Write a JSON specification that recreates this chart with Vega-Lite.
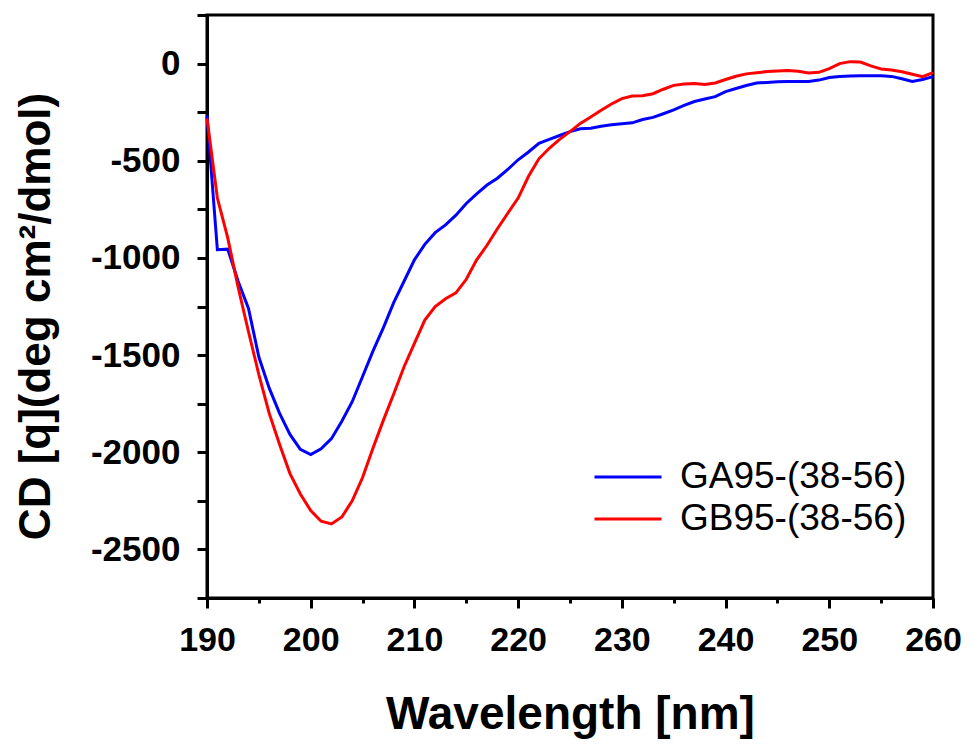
{
  "$schema": "https://vega.github.io/schema/vega-lite/v6.json",
  "width": 726,
  "height": 583,
  "autosize": {"type": "none"},
  "padding": {"left": 207, "top": 15, "right": 39, "bottom": 146},
  "background": "white",
  "config": {
    "font": "Liberation Sans",
    "view": {"stroke": "black", "strokeWidth": 3}
  },
  "data": {
    "values": [
      {"wl":190,"cd":-267,"s":"GA95-(38-56)"},{"wl":191,"cd":-958,"s":"GA95-(38-56)"},{"wl":192,"cd":-955,"s":"GA95-(38-56)"},{"wl":193,"cd":-1120,"s":"GA95-(38-56)"},{"wl":194,"cd":-1260,"s":"GA95-(38-56)"},{"wl":195,"cd":-1510,"s":"GA95-(38-56)"},{"wl":196,"cd":-1670,"s":"GA95-(38-56)"},{"wl":197,"cd":-1800,"s":"GA95-(38-56)"},{"wl":198,"cd":-1908,"s":"GA95-(38-56)"},{"wl":199,"cd":-1985,"s":"GA95-(38-56)"},
      {"wl":200,"cd":-2012,"s":"GA95-(38-56)"},{"wl":201,"cd":-1982,"s":"GA95-(38-56)"},{"wl":202,"cd":-1930,"s":"GA95-(38-56)"},{"wl":203,"cd":-1840,"s":"GA95-(38-56)"},{"wl":204,"cd":-1740,"s":"GA95-(38-56)"},{"wl":205,"cd":-1610,"s":"GA95-(38-56)"},{"wl":206,"cd":-1480,"s":"GA95-(38-56)"},{"wl":207,"cd":-1360,"s":"GA95-(38-56)"},{"wl":208,"cd":-1230,"s":"GA95-(38-56)"},{"wl":209,"cd":-1120,"s":"GA95-(38-56)"},
      {"wl":210,"cd":-1010,"s":"GA95-(38-56)"},{"wl":211,"cd":-930,"s":"GA95-(38-56)"},{"wl":212,"cd":-870,"s":"GA95-(38-56)"},{"wl":213,"cd":-830,"s":"GA95-(38-56)"},{"wl":214,"cd":-780,"s":"GA95-(38-56)"},{"wl":215,"cd":-720,"s":"GA95-(38-56)"},{"wl":216,"cd":-670,"s":"GA95-(38-56)"},{"wl":217,"cd":-625,"s":"GA95-(38-56)"},{"wl":218,"cd":-590,"s":"GA95-(38-56)"},{"wl":219,"cd":-545,"s":"GA95-(38-56)"},
      {"wl":220,"cd":-495,"s":"GA95-(38-56)"},{"wl":221,"cd":-455,"s":"GA95-(38-56)"},{"wl":222,"cd":-410,"s":"GA95-(38-56)"},{"wl":223,"cd":-390,"s":"GA95-(38-56)"},{"wl":224,"cd":-370,"s":"GA95-(38-56)"},{"wl":225,"cd":-350,"s":"GA95-(38-56)"},{"wl":226,"cd":-335,"s":"GA95-(38-56)"},{"wl":227,"cd":-333,"s":"GA95-(38-56)"},{"wl":228,"cd":-322,"s":"GA95-(38-56)"},{"wl":229,"cd":-315,"s":"GA95-(38-56)"},
      {"wl":230,"cd":-310,"s":"GA95-(38-56)"},{"wl":231,"cd":-305,"s":"GA95-(38-56)"},{"wl":232,"cd":-288,"s":"GA95-(38-56)"},{"wl":233,"cd":-277,"s":"GA95-(38-56)"},{"wl":234,"cd":-258,"s":"GA95-(38-56)"},{"wl":235,"cd":-238,"s":"GA95-(38-56)"},{"wl":236,"cd":-215,"s":"GA95-(38-56)"},{"wl":237,"cd":-195,"s":"GA95-(38-56)"},{"wl":238,"cd":-182,"s":"GA95-(38-56)"},{"wl":239,"cd":-170,"s":"GA95-(38-56)"},
      {"wl":240,"cd":-144,"s":"GA95-(38-56)"},{"wl":241,"cd":-128,"s":"GA95-(38-56)"},{"wl":242,"cd":-113,"s":"GA95-(38-56)"},{"wl":243,"cd":-100,"s":"GA95-(38-56)"},{"wl":244,"cd":-97,"s":"GA95-(38-56)"},{"wl":245,"cd":-93,"s":"GA95-(38-56)"},{"wl":246,"cd":-92,"s":"GA95-(38-56)"},{"wl":247,"cd":-92,"s":"GA95-(38-56)"},{"wl":248,"cd":-92,"s":"GA95-(38-56)"},{"wl":249,"cd":-85,"s":"GA95-(38-56)"},
      {"wl":250,"cd":-72,"s":"GA95-(38-56)"},{"wl":251,"cd":-66,"s":"GA95-(38-56)"},{"wl":252,"cd":-64,"s":"GA95-(38-56)"},{"wl":253,"cd":-63,"s":"GA95-(38-56)"},{"wl":254,"cd":-62,"s":"GA95-(38-56)"},{"wl":255,"cd":-62,"s":"GA95-(38-56)"},{"wl":256,"cd":-66,"s":"GA95-(38-56)"},{"wl":257,"cd":-78,"s":"GA95-(38-56)"},{"wl":258,"cd":-92,"s":"GA95-(38-56)"},{"wl":259,"cd":-82,"s":"GA95-(38-56)"},
      {"wl":260,"cd":-67,"s":"GA95-(38-56)"},
      {"wl":190,"cd":-282,"s":"GB95-(38-56)"},{"wl":191,"cd":-692,"s":"GB95-(38-56)"},{"wl":192,"cd":-897,"s":"GB95-(38-56)"},{"wl":193,"cd":-1150,"s":"GB95-(38-56)"},{"wl":194,"cd":-1380,"s":"GB95-(38-56)"},{"wl":195,"cd":-1600,"s":"GB95-(38-56)"},{"wl":196,"cd":-1800,"s":"GB95-(38-56)"},{"wl":197,"cd":-1960,"s":"GB95-(38-56)"},{"wl":198,"cd":-2110,"s":"GB95-(38-56)"},{"wl":199,"cd":-2215,"s":"GB95-(38-56)"},
      {"wl":200,"cd":-2300,"s":"GB95-(38-56)"},{"wl":201,"cd":-2355,"s":"GB95-(38-56)"},{"wl":202,"cd":-2369,"s":"GB95-(38-56)"},{"wl":203,"cd":-2333,"s":"GB95-(38-56)"},{"wl":204,"cd":-2250,"s":"GB95-(38-56)"},{"wl":205,"cd":-2130,"s":"GB95-(38-56)"},{"wl":206,"cd":-1980,"s":"GB95-(38-56)"},{"wl":207,"cd":-1836,"s":"GB95-(38-56)"},{"wl":208,"cd":-1700,"s":"GB95-(38-56)"},{"wl":209,"cd":-1560,"s":"GB95-(38-56)"},
      {"wl":210,"cd":-1440,"s":"GB95-(38-56)"},{"wl":211,"cd":-1320,"s":"GB95-(38-56)"},{"wl":212,"cd":-1250,"s":"GB95-(38-56)"},{"wl":213,"cd":-1210,"s":"GB95-(38-56)"},{"wl":214,"cd":-1180,"s":"GB95-(38-56)"},{"wl":215,"cd":-1110,"s":"GB95-(38-56)"},{"wl":216,"cd":-1010,"s":"GB95-(38-56)"},{"wl":217,"cd":-935,"s":"GB95-(38-56)"},{"wl":218,"cd":-850,"s":"GB95-(38-56)"},{"wl":219,"cd":-770,"s":"GB95-(38-56)"},
      {"wl":220,"cd":-692,"s":"GB95-(38-56)"},{"wl":221,"cd":-580,"s":"GB95-(38-56)"},{"wl":222,"cd":-490,"s":"GB95-(38-56)"},{"wl":223,"cd":-436,"s":"GB95-(38-56)"},{"wl":224,"cd":-390,"s":"GB95-(38-56)"},{"wl":225,"cd":-350,"s":"GB95-(38-56)"},{"wl":226,"cd":-308,"s":"GB95-(38-56)"},{"wl":227,"cd":-275,"s":"GB95-(38-56)"},{"wl":228,"cd":-240,"s":"GB95-(38-56)"},{"wl":229,"cd":-208,"s":"GB95-(38-56)"},
      {"wl":230,"cd":-180,"s":"GB95-(38-56)"},{"wl":231,"cd":-167,"s":"GB95-(38-56)"},{"wl":232,"cd":-165,"s":"GB95-(38-56)"},{"wl":233,"cd":-155,"s":"GB95-(38-56)"},{"wl":234,"cd":-132,"s":"GB95-(38-56)"},{"wl":235,"cd":-112,"s":"GB95-(38-56)"},{"wl":236,"cd":-105,"s":"GB95-(38-56)"},{"wl":237,"cd":-103,"s":"GB95-(38-56)"},{"wl":238,"cd":-108,"s":"GB95-(38-56)"},{"wl":239,"cd":-100,"s":"GB95-(38-56)"},
      {"wl":240,"cd":-82,"s":"GB95-(38-56)"},{"wl":241,"cd":-65,"s":"GB95-(38-56)"},{"wl":242,"cd":-53,"s":"GB95-(38-56)"},{"wl":243,"cd":-47,"s":"GB95-(38-56)"},{"wl":244,"cd":-41,"s":"GB95-(38-56)"},{"wl":245,"cd":-38,"s":"GB95-(38-56)"},{"wl":246,"cd":-36,"s":"GB95-(38-56)"},{"wl":247,"cd":-40,"s":"GB95-(38-56)"},{"wl":248,"cd":-48,"s":"GB95-(38-56)"},{"wl":249,"cd":-45,"s":"GB95-(38-56)"},
      {"wl":250,"cd":-26,"s":"GB95-(38-56)"},{"wl":251,"cd":0,"s":"GB95-(38-56)"},{"wl":252,"cd":10,"s":"GB95-(38-56)"},{"wl":253,"cd":8,"s":"GB95-(38-56)"},{"wl":254,"cd":-12,"s":"GB95-(38-56)"},{"wl":255,"cd":-28,"s":"GB95-(38-56)"},{"wl":256,"cd":-33,"s":"GB95-(38-56)"},{"wl":257,"cd":-42,"s":"GB95-(38-56)"},{"wl":258,"cd":-55,"s":"GB95-(38-56)"},{"wl":259,"cd":-67,"s":"GB95-(38-56)"},
      {"wl":260,"cd":-46,"s":"GB95-(38-56)"}
    ]
  },
  "mark": {"type": "line", "strokeWidth": 3, "interpolate": "linear"},
  "encoding": {
    "x": {
      "field": "wl", "type": "quantitative",
      "scale": {"domain": [190, 260], "nice": false, "zero": false},
      "axis": {
        "title": "Wavelength [nm]",
        "titleFont": "Liberation Sans", "titleFontSize": 46, "titleFontWeight": "bold", "titleColor": "black",
        "titleY": 130, "titleBaseline": "alphabetic",
        "values": [190,195,200,205,210,215,220,225,230,235,240,245,250,255,260],
        "labelExpr": "datum.value % 10 === 0 ? datum.label : ''",
        "labelFont": "Liberation Sans", "labelFontSize": 34, "labelFontWeight": "bold", "labelColor": "black",
        "labelPadding": 15, "labelFlush": false, "labelOverlap": false,
        "tickSize": {"condition": {"test": "datum.value % 10 === 0", "value": 10}, "value": 5},
        "tickWidth": 3, "tickColor": "black",
        "domainWidth": 3, "domainColor": "black",
        "grid": false
      }
    },
    "y": {
      "field": "cd", "type": "quantitative",
      "scale": {"domain": [-2750, 250], "nice": false, "zero": false},
      "axis": {
        "title": "CD [q](deg cm²/dmol)",
        "titleFont": "Liberation Sans", "titleFontSize": 44, "titleFontWeight": "bold", "titleColor": "black",
        "titleAngle": -90, "titleX": -158, "titleY": 301, "titleBaseline": "alphabetic", "titleAlign": "center",
        "values": [-2750,-2500,-2250,-2000,-1750,-1500,-1250,-1000,-750,-500,-250,0,250],
        "labelExpr": "datum.value % 500 === 0 ? '' + datum.value : ''",
        "labelFont": "Liberation Sans", "labelFontSize": 35, "labelFontWeight": "bold", "labelColor": "black",
        "labelPadding": 17, "labelFlush": false, "labelOverlap": false,
        "tickSize": 10, "tickWidth": 3, "tickColor": "black",
        "domainWidth": 3, "domainColor": "black",
        "grid": false
      }
    },
    "color": {
      "field": "s", "type": "nominal",
      "scale": {"domain": ["GA95-(38-56)", "GB95-(38-56)"], "range": ["#0000FF", "#FF0000"]},
      "legend": {
        "title": null,
        "orient": "none",
        "legendX": 386,
        "legendY": 441,
        "padding": 0,
        "symbolType": "stroke",
        "symbolSize": 4489,
        "symbolStrokeWidth": 3,
        "labelFont": "Liberation Sans",
        "labelFontSize": 37,
        "labelColor": "black",
        "labelOffset": 17,
        "labelLimit": 0,
        "clipHeight": 42,
        "rowPadding": 0
      }
    }
  }
}
